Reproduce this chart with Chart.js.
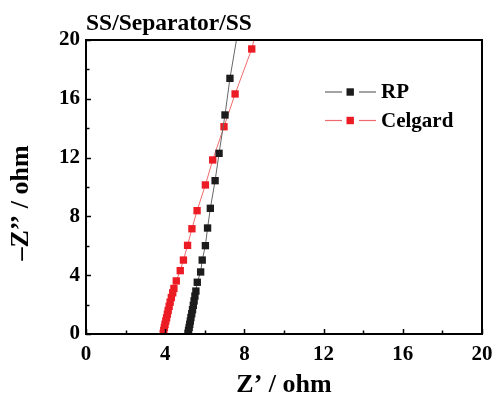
<!DOCTYPE html>
<html>
<head>
<meta charset="utf-8">
<script src="https://cdn.jsdelivr.net/npm/chart.js@4/dist/chart.umd.min.js"></script>
<style>
  html, body { margin: 0; padding: 0; background: #fff; }
  #wrap { width: 495px; height: 397px; }
</style>
</head>
<body>
<div id="wrap"><canvas id="c" width="495" height="397"></canvas></div>
<script>
// Nyquist data, SS/Separator/SS cells
const rpRe = [5.15, 5.18, 5.21, 5.24, 5.27, 5.30, 5.34, 5.38, 5.42, 5.46, 5.50, 5.55, 5.62, 5.79, 5.87, 6.03, 6.14, 6.28, 6.52, 6.72, 7.02, 7.27, 7.80];
const rpIm = [0.05, 0.25, 0.45, 0.66, 0.88, 1.12, 1.38, 1.65, 1.95, 2.25, 2.58, 2.92, 3.52, 4.22, 5.03, 6.01, 7.21, 8.55, 10.43, 12.29, 14.90, 17.39, 21.60];

const celRe = [3.90, 3.93, 3.96, 3.99, 4.03, 4.07, 4.11, 4.15, 4.20, 4.25, 4.31, 4.38, 4.44, 4.56, 4.76, 4.92, 5.13, 5.35, 5.61, 6.03, 6.40, 6.97, 7.53, 8.37, 8.70];
const celIm = [0.05, 0.25, 0.45, 0.66, 0.88, 1.10, 1.35, 1.60, 1.88, 2.17, 2.48, 2.80, 3.10, 3.61, 4.31, 5.03, 6.03, 7.16, 8.39, 10.14, 11.84, 14.10, 16.33, 19.39, 21.20];

const seriesNames = ['RP', 'Celgard'];
const axisTicks = [0, 4, 8, 12, 16, 20];
const chartTitle = 'SS/Separator/SS';
const xTitle = 'Z’ / ohm';
const yTitle = '–Z’’ / ohm';

const SERIF = '"Liberation Serif", "Times New Roman", serif';
const toPoints = (xs, ys) => xs.map((x, i) => ({ x: x, y: ys[i] }));

// Frame, inward ticks, titles and the line+marker legend
const decor = {
  id: 'decor',
  afterDraw(chart) {
    const { ctx, chartArea: a, scales } = chart;
    const xs = scales.x, ys = scales.y;
    ctx.save();
    ctx.strokeStyle = '#000';
    ctx.lineWidth = 1.5;
    for (let v = 0; v <= 20; v += 2) {
      const len = v % 4 === 0 ? 5 : 3.5;
      const px = Math.round(xs.getPixelForValue(v)) + 0.5;
      ctx.beginPath(); ctx.moveTo(px, a.bottom); ctx.lineTo(px, a.bottom - len); ctx.stroke();
      const py = Math.round(ys.getPixelForValue(v)) + 0.5;
      ctx.beginPath(); ctx.moveTo(a.left, py); ctx.lineTo(a.left + len, py); ctx.stroke();
    }
    ctx.lineWidth = 2;
    ctx.strokeRect(a.left, a.top, a.right - a.left, a.bottom - a.top);

    ctx.fillStyle = '#000';
    ctx.font = 'bold 23.5px ' + SERIF;
    ctx.textAlign = 'left';
    ctx.textBaseline = 'alphabetic';
    ctx.fillText(chartTitle, a.left, 30);

    ctx.font = 'bold 26px ' + SERIF;
    ctx.textAlign = 'center';
    ctx.textBaseline = 'alphabetic';
    ctx.fillText(xTitle, (a.left + a.right) / 2, 392);

    ctx.save();
    ctx.translate(28, 203);
    ctx.rotate(-Math.PI / 2);
    ctx.fillText(yTitle, 0, 0);
    ctx.restore();

    // legend rows
    chart.data.datasets.forEach((ds, i) => {
      const y = 92 + i * 28.5;
      ctx.strokeStyle = ds.borderColor;
      ctx.lineWidth = 1.2;
      ctx.beginPath(); ctx.moveTo(325, y); ctx.lineTo(342, y); ctx.stroke();
      ctx.beginPath(); ctx.moveTo(359, y); ctx.lineTo(376, y); ctx.stroke();
      ctx.fillStyle = ds.pointBackgroundColor;
      ctx.fillRect(346.5, y - 3.7, 7.4, 7.4);
      ctx.fillStyle = '#000';
      ctx.font = 'bold 21px ' + SERIF;
      ctx.textAlign = 'left';
      ctx.textBaseline = 'middle';
      ctx.fillText(ds.label, 381, y + 1);
    });
    ctx.restore();
  }
};

new Chart(document.getElementById('c'), {
  type: 'line',
  data: {
    datasets: [
      {
        label: seriesNames[0],
        data: toPoints(rpRe, rpIm),
        borderColor: '#666666',
        borderWidth: 1,
        pointStyle: 'rect',
        pointRadius: 5.2,
        pointBackgroundColor: '#1c1c1c',
        pointBorderColor: '#1c1c1c',
        pointBorderWidth: 0,
        tension: 0
      },
      {
        label: seriesNames[1],
        data: toPoints(celRe, celIm),
        borderColor: '#ef6b6b',
        borderWidth: 1,
        pointStyle: 'rect',
        pointRadius: 5.2,
        pointBackgroundColor: '#ec1c24',
        pointBorderColor: '#ec1c24',
        pointBorderWidth: 0,
        tension: 0
      }
    ]
  },
  options: {
    responsive: false,
    animation: false,
    layout: { padding: { top: 40, right: 13, left: 0, bottom: 0 } },
    plugins: { legend: { display: false }, title: { display: false }, tooltip: { enabled: false } },
    scales: {
      x: {
        type: 'linear', min: 0, max: 20,
        afterBuildTicks: s => { s.ticks = axisTicks.map(v => ({ value: v })); },
        afterFit: s => { s.height = 63; s.paddingLeft = 0; s.paddingRight = 0; },
        grid: { display: false, drawTicks: false },
        border: { display: false },
        ticks: { color: '#000', padding: 8, font: { family: SERIF, size: 21, weight: 'bold' }, maxRotation: 0 }
      },
      y: {
        type: 'linear', min: 0, max: 20,
        afterBuildTicks: s => { s.ticks = axisTicks.map(v => ({ value: v })); },
        afterFit: s => { s.width = 86; s.paddingTop = 0; s.paddingBottom = 0; },
        grid: { display: false, drawTicks: false },
        border: { display: false },
        ticks: { color: '#000', padding: 6, font: { family: SERIF, size: 21, weight: 'bold' } }
      }
    }
  },
  plugins: [decor]
});
</script>
</body>
</html>
